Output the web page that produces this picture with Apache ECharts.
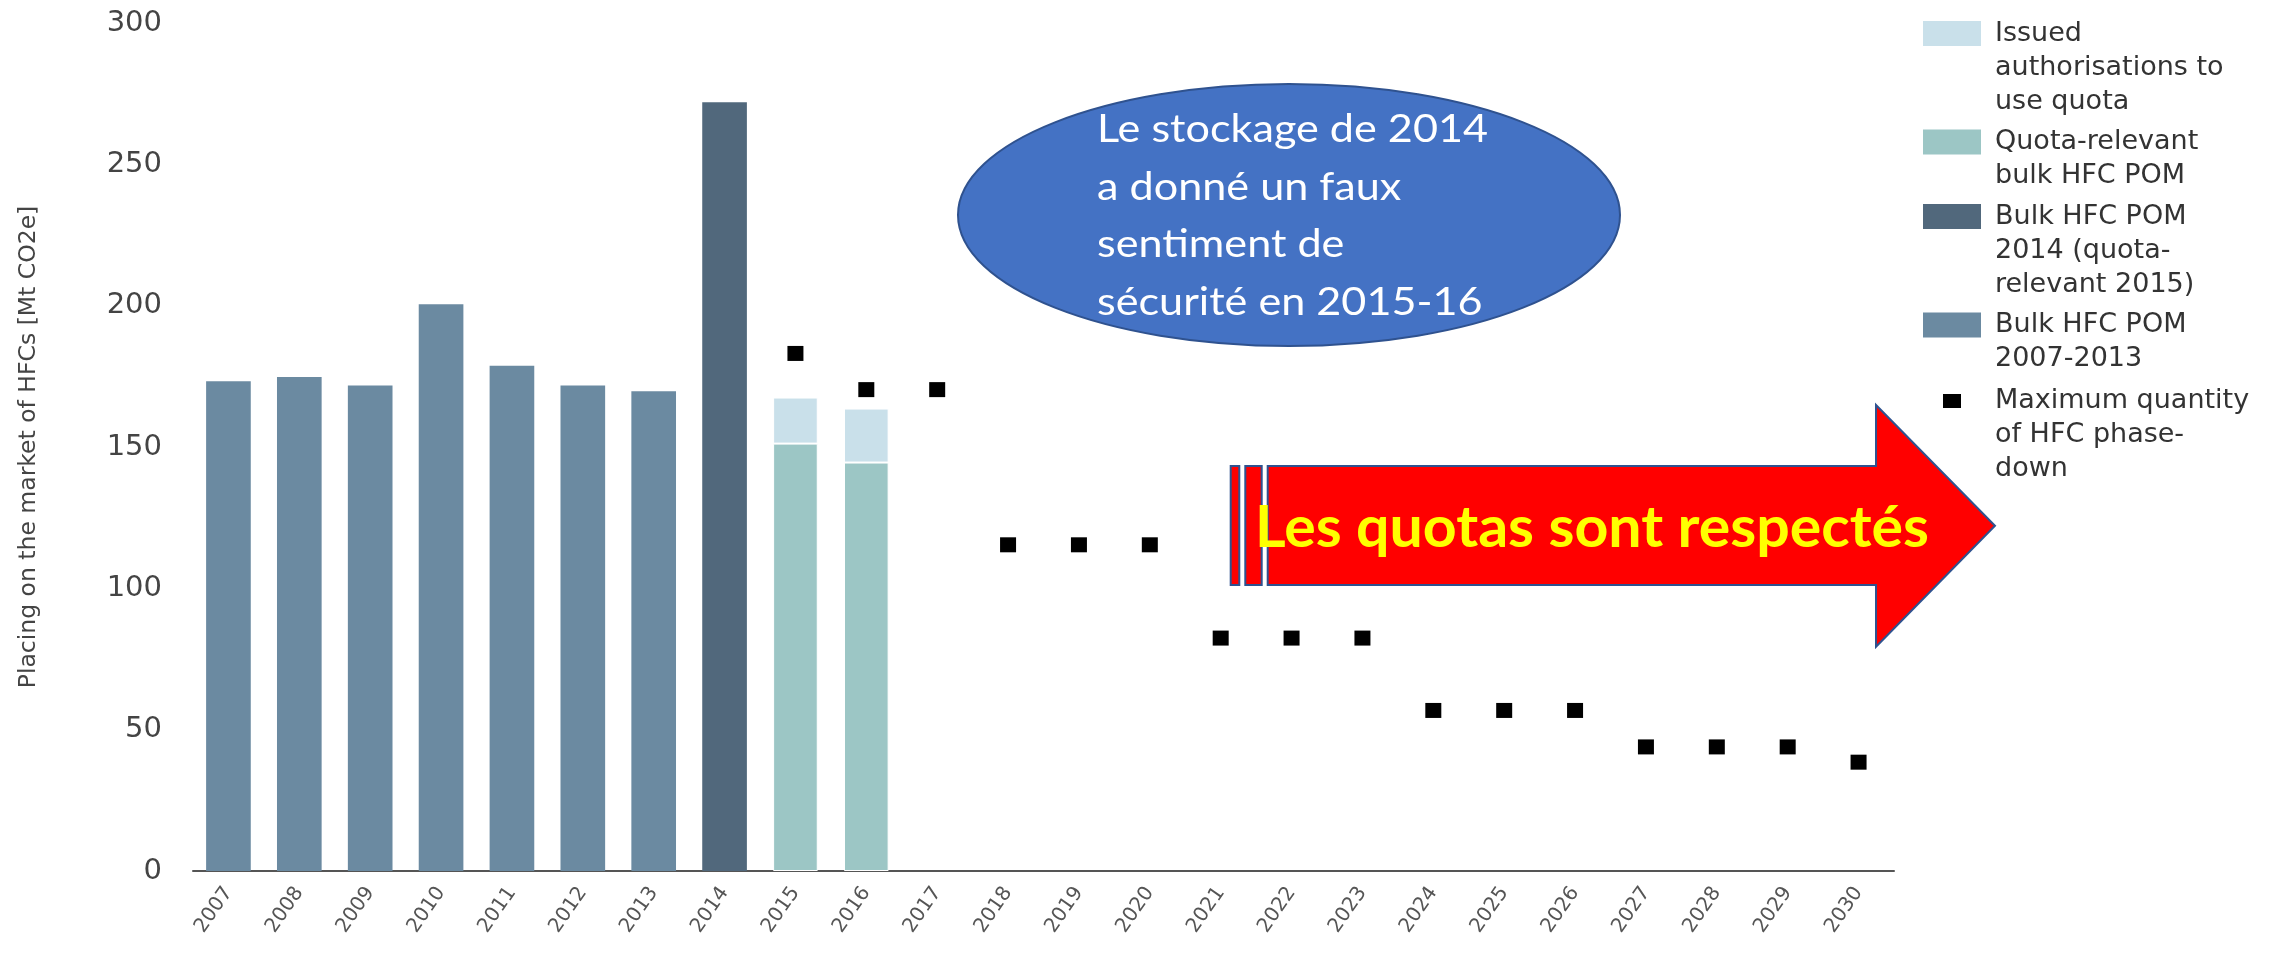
<!DOCTYPE html>
<html>
<head>
<meta charset="utf-8">
<script src="https://cdn.jsdelivr.net/npm/echarts@6/dist/echarts.min.js"></script>
<style>
  html, body { margin: 0; padding: 0; background: #fff; }
  #hfcChart { width: 2287px; height: 956px; }
</style>
</head>
<body>
<div id="hfcChart"></div>
<script>
// years on the x axis
var years = ['2007', '2008', '2009', '2010', '2011', '2012', '2013', '2014', '2015', '2016', '2017', '2018',
  '2019', '2020', '2021', '2022', '2023', '2024', '2025', '2026', '2027', '2028', '2029', '2030'];

// Mt CO2e
var bulk0713 = [173.3, 174.8, 171.8, 200.5, 178.7, 171.8, 169.7, null, null, null, null, null,
  null, null, null, null, null, null, null, null, null, null, null, null];
var bulk2014 = [null, null, null, null, null, null, null, 272.0, null, null, null, null,
  null, null, null, null, null, null, null, null, null, null, null, null];
var quotaRelevant = [null, null, null, null, null, null, null, null, 151.2, 144.5, null, null,
  null, null, null, null, null, null, null, null, null, null, null, null];
var issuedAuth = [null, null, null, null, null, null, null, null, 16.3, 19.1, null, null,
  null, null, null, null, null, null, null, null, null, null, null, null];
var maxQuantity = [null, null, null, null, null, null, null, null, 183.1, 170.3, 170.3, 115.4,
  115.4, 115.4, 82.4, 82.4, 82.4, 56.8, 56.8, 56.8, 43.9, 43.9, 43.9, 38.5];

var yTicks = [0, 50, 100, 150, 200, 250, 300];

var names = {
  issued: 'Issued\nauthorisations to\nuse quota',
  quota: 'Quota-relevant\nbulk HFC POM',
  b2014: 'Bulk HFC POM\n2014 (quota-\nrelevant 2015)',
  b0713: 'Bulk HFC POM\n2007-2013',
  max: 'Maximum quantity\nof HFC phase-\ndown'
};

var calloutText = 'Le stockage de 2014\na donné un faux\nsentiment de\nsécurité en 2015-16';
var arrowText = 'Les quotas sont respectés';

// squeeze text so it takes the width it has in the original (Calibri is narrow)
function fitScale(text, font, target) {
  var ctx = document.createElement('canvas').getContext('2d');
  ctx.font = font;
  return target / ctx.measureText(text).width;
}

function richName(name) {
  return name.split('\n').map(function (l) { return '{a|' + l + '}'; }).join('\n');
}
// pad on top so the swatch sits next to the first line, pad left for the gap to the swatch
function legendItem(gap) {
  return function (name) {
    var n = name.split('\n').length;
    return { name: name, icon: 'rect', textStyle: { padding: [(n - 1) * 34, 0, 0, gap] } };
  };
}

var legendText = {
  rich: { a: { fontFamily: 'DejaVu Sans', fontSize: 27, lineHeight: 34, color: '#333' } }
};

var chart = echarts.init(document.getElementById('hfcChart'));

var option = {
  animation: false,
  backgroundColor: '#fff',
  grid: { left: 193, right: 393, top: 23, bottom: 85, containLabel: false },
  legend: [{
    orient: 'vertical',
    left: 1923,
    top: 20,
    padding: 0,
    itemWidth: 58,
    itemHeight: 25,
    itemGap: 13.5,
    itemStyle: { borderWidth: 0 },
    textStyle: legendText,
    formatter: richName,
    data: [names.issued, names.quota, names.b2014, names.b0713].map(legendItem(9))
  }, {
    orient: 'vertical',
    left: 1943,
    top: 387.5,
    padding: 0,
    itemWidth: 18,
    itemHeight: 14,
    textStyle: legendText,
    formatter: richName,
    data: [names.max].map(legendItem(29))
  }],
  xAxis: {
    type: 'category',
    data: years,
    axisLine: { lineStyle: { color: '#555', width: 2 } },
    axisTick: { show: false },
    axisLabel: { rotate: 55, fontSize: 20, color: '#555', fontFamily: 'DejaVu Sans', margin: 18 }
  },
  yAxis: {
    type: 'value',
    min: yTicks[0],
    max: yTicks[yTicks.length - 1],
    interval: 50,
    name: 'Placing on the market of HFCs [Mt CO2e]',
    nameLocation: 'middle',
    nameGap: 152,
    nameTextStyle: { fontSize: 23.5, color: '#444', fontFamily: 'DejaVu Sans' },
    axisLine: { show: false },
    axisTick: { show: false },
    splitLine: { show: false },
    axisLabel: { fontSize: 29, color: '#444', fontFamily: 'DejaVu Sans', margin: 31 }
  },
  series: [{
    name: names.b0713, type: 'bar', stack: 'pom', barCategoryGap: '37%',
    itemStyle: { color: '#6b8aa1' }, data: bulk0713
  }, {
    name: names.b2014, type: 'bar', stack: 'pom',
    itemStyle: { color: '#51687c' }, data: bulk2014
  }, {
    name: names.quota, type: 'bar', stack: 'pom',
    itemStyle: { color: '#9cc6c5', borderColor: '#fff', borderWidth: 1 }, data: quotaRelevant
  }, {
    name: names.issued, type: 'bar', stack: 'pom',
    itemStyle: { color: '#c9e0ea', borderColor: '#fff', borderWidth: 1 }, data: issuedAuth
  }, {
    name: names.max, type: 'scatter', symbol: 'rect', symbolSize: [16, 15], z: 5,
    itemStyle: { color: '#000', opacity: 1 }, data: maxQuantity
  }],
  graphic: [{
    type: 'ellipse', z: 100,
    shape: { cx: 1289, cy: 215, rx: 331, ry: 131 },
    style: { fill: '#4472c4', stroke: '#2f528f', lineWidth: 2 }
  }, {
    type: 'text', z: 101, x: 1097, y: 216,
    scaleX: fitScale('Le stockage de 2014', '39px Lato', 391),
    style: { text: calloutText, fill: '#fff', fontFamily: 'Lato', fontSize: 39, lineHeight: 57.8, verticalAlign: 'middle' }
  }, {
    type: 'rect', z: 100,
    shape: { x: 1230.7, y: 466, width: 8.6, height: 119 },
    style: { fill: '#ff0000', stroke: '#2f528f', lineWidth: 2 }
  }, {
    type: 'rect', z: 100,
    shape: { x: 1245.3, y: 466, width: 16.4, height: 119 },
    style: { fill: '#ff0000', stroke: '#2f528f', lineWidth: 2 }
  }, {
    type: 'polygon', z: 100,
    shape: { points: [[1267.7, 466], [1876, 466], [1876, 405], [1995, 525.7], [1876, 646.7], [1876, 585], [1267.7, 585]] },
    style: { fill: '#ff0000', stroke: '#2f528f', lineWidth: 2 }
  }, {
    type: 'text', z: 101, x: 1255, y: 529,
    scaleX: fitScale(arrowText, 'bold 57px Lato', 674),
    style: { text: arrowText, fill: '#ffff00', fontFamily: 'Lato', fontWeight: 'bold', fontSize: 57, verticalAlign: 'middle' }
  }]
};

chart.setOption(option);
</script>
</body>
</html>
